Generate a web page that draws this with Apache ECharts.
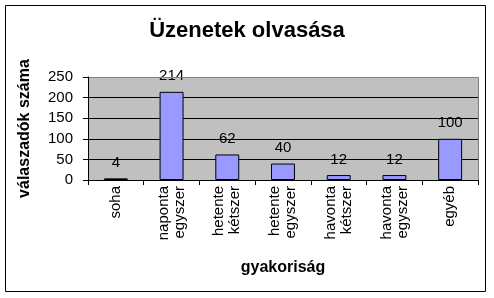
<!DOCTYPE html>
<html>
<head>
<meta charset="utf-8">
<script src="https://cdn.jsdelivr.net/npm/echarts@6/dist/echarts.min.js"></script>
<style>html,body{margin:0;padding:0;background:#fff}#c{width:494px;height:298px}</style>
</head>
<body>
<div id="c"></div>
<script>
const categories = ['soha', 'naponta\negyszer', 'hetente\nkétszer', 'hetente\negyszer', 'havonta\nkétszer', 'havonta\negyszer', 'egyéb'];
const values = [4, 214, 62, 40, 12, 12, 100];
const yTicks = [0, 50, 100, 150, 200, 250];
const titleText = 'Üzenetek olvasása';
const xName = 'gyakoriság';
const yName = 'válaszadók száma';

const FONT = 'Liberation Sans, Arial, sans-serif';
const chart = echarts.init(document.getElementById('c'), null, {renderer: 'canvas'});
const gl = 88, gt = 77, gr = 478, gb = 180;
chart.setOption({
  animation: false,
  backgroundColor: '#ffffff',
  title: {
    text: titleText, left: 'center', top: 15,
    textStyle: {fontFamily: FONT, fontSize: 22, fontWeight: 'bold', color: '#000'}
  },
  graphic: [
    {type: 'rect', shape: {x: 5.5, y: 5.5, width: 480, height: 286}, style: {fill: 'none', stroke: '#000', lineWidth: 1}, z: 0},
    {type: 'rect', shape: {x: gl + 0.5, y: gt + 0.5, width: gr - gl, height: gb - gt}, style: {fill: '#C0C0C0', stroke: '#808080', lineWidth: 1}, z: -1},
    {type: 'line', shape: {x1: gl + 1, y1: gt + 0.5, x2: gr + 0.5, y2: gt + 0.5}, style: {stroke: '#808080', lineWidth: 1}, z: 10}
  ],
  grid: {left: gl, top: gt, right: 494 - gr, bottom: 298 - gb, containLabel: false},
  xAxis: {
    type: 'category', data: categories,
    name: xName, nameLocation: 'middle', nameGap: 80,
    nameTextStyle: {fontFamily: FONT, fontSize: 16, fontWeight: 'bold', color: '#000'},
    axisLine: {lineStyle: {color: '#000', width: 1}},
    axisTick: {show: true, length: 5, inside: false, alignWithLabel: false, lineStyle: {color: '#000'}},
    axisLabel: {rotate: 90, margin: 6, fontFamily: FONT, fontSize: 15, color: '#000', lineHeight: 16, interval: 0}
  },
  yAxis: {
    type: 'value', min: 0, max: 250, interval: 50,
    name: yName, nameLocation: 'middle', nameGap: 55, nameRotate: 90,
    nameTextStyle: {fontFamily: FONT, fontSize: 16, fontWeight: 'bold', color: '#000'},
    axisLine: {show: true, lineStyle: {color: '#000', width: 1}},
    axisTick: {show: true, length: 5, lineStyle: {color: '#000'}},
    axisLabel: {margin: 15, fontFamily: FONT, fontSize: 15, color: '#000',
      formatter: v => yTicks.includes(v) ? String(v) : ''},
    splitLine: {show: true, lineStyle: {color: '#000', width: 1}}
  },
  series: [{
    type: 'bar', data: values, barWidth: '43%',
    itemStyle: {color: '#9999FF', borderColor: '#000', borderWidth: 1},
    label: {show: true, position: 'top', distance: 8, fontFamily: FONT, fontSize: 15, color: '#000'}
  }]
});
</script>
</body>
</html>
